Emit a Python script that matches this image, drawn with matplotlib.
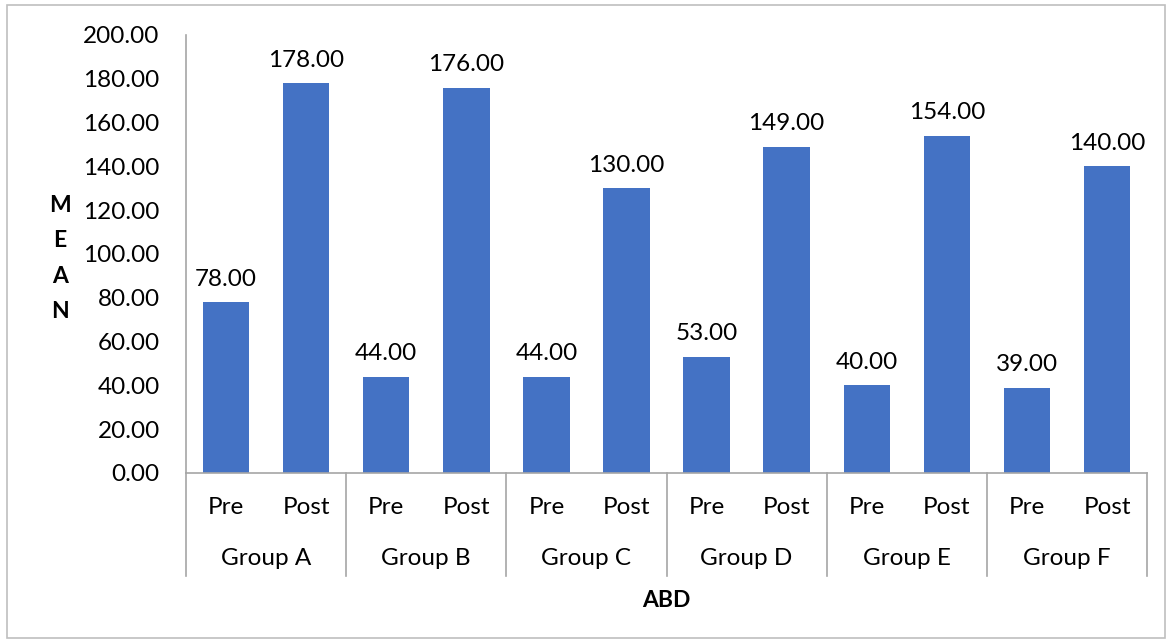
import matplotlib
matplotlib.use("Agg")
import matplotlib.pyplot as plt
from matplotlib.patches import Rectangle
import numpy as np

groups = ["Group A", "Group B", "Group C", "Group D", "Group E", "Group F"]
phases = ["Pre", "Post"]
pre_vals = [78, 44, 44, 53, 40, 39]
post_vals = [178, 176, 130, 149, 154, 140]
y_ticks = [0, 20, 40, 60, 80, 100, 120, 140, 160, 180, 200]

plt.rcParams["font.family"] = ["Lato", "DejaVu Sans"]
fs = 17.5
blue = "#4472C4"
grey = "#A6A6A6"

fig = plt.figure(figsize=(11.67, 6.41), dpi=100)
ax = fig.add_axes([0.1594, 0.2621, 0.8235, 0.6833])

values = []
for a, b in zip(pre_vals, post_vals):
    values += [a, b]
x = np.arange(len(values))
bars = ax.bar(x, values, width=0.58, color=blue, zorder=2)
for xi, v in zip(x, values):
    ax.annotate("%.2f" % v, (xi, v), xytext=(0, 9), textcoords="offset points",
                ha="center", va="bottom", fontsize=fs)

ax.set_xlim(-0.5, len(values) - 0.5)
ax.set_ylim(0, 200)
ax.set_yticks(y_ticks)
ax.set_yticklabels(["%.2f" % t for t in y_ticks], fontsize=fs)
ax.tick_params(axis="y", length=0, pad=19)
ax.set_xticks([])
for s in ["top", "right"]:
    ax.spines[s].set_visible(False)
for s in ["left", "bottom"]:
    ax.spines[s].set_color(grey)
    ax.spines[s].set_linewidth(1.2)

tr = ax.get_xaxis_transform()
for i in range(len(groups) + 1):
    xs = 2 * i - 0.5
    ax.plot([xs, xs], [0, -0.235], transform=tr, color=grey, lw=1.2, clip_on=False)
for xi in x:
    ax.text(xi, -0.078, phases[xi % 2], transform=tr, ha="center", va="center", fontsize=fs)
for i, g in enumerate(groups):
    ax.text(2 * i + 0.5, -0.196, g, transform=tr, ha="center", va="center", fontsize=fs)

ax.text(0.5, -0.292, "ABD", transform=ax.transAxes, ha="center", va="center",
        fontsize=fs - 1, fontweight="bold")
ax.text(-0.131, 0.49, "M\nE\nA\nN", transform=ax.transAxes, ha="center", va="center",
        fontsize=fs - 1, fontweight="bold", linespacing=1.85)

fig.patches.append(Rectangle((7 / 1167, 3 / 641), 1158 / 1167, 633 / 641,
                             transform=fig.transFigure, fill=False,
                             edgecolor="#BFBFBF", lw=1.2))

fig.savefig("out.png", dpi=100)
